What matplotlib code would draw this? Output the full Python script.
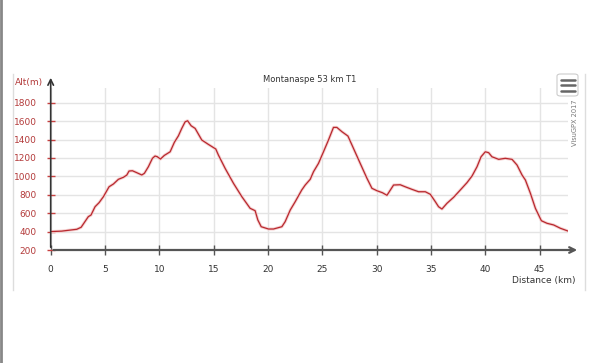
import matplotlib
matplotlib.use("Agg")
import matplotlib.pyplot as plt
from matplotlib.patches import FancyBboxPatch
from matplotlib.lines import Line2D

# ---- data ----
distance_km = [0.0, 1.0, 2.4, 2.8, 3.46, 3.71, 4.08, 4.45, 4.85, 5.37, 5.77, 6.23, 6.69,
               7.0, 7.21, 7.52, 7.92, 8.38, 8.62, 8.99, 9.36, 9.6, 9.8, 10.1, 10.46, 10.99,
               11.38, 11.75, 12.06, 12.37, 12.6, 12.92, 13.29, 13.9, 14.5, 15.19, 15.43,
               16.05, 16.82, 17.59, 18.35, 18.81, 19.06, 19.37, 20.04, 20.5, 21.27, 21.57,
               22.04, 22.5, 23.1, 23.42, 23.88, 24.18, 24.64, 25.1, 25.56, 26.02, 26.33,
               26.8, 27.35, 27.86, 28.48, 29.1, 29.56, 30.02, 30.53, 30.94, 31.55, 32.16,
               32.62, 33.24, 33.85, 34.47, 34.93, 35.39, 35.69, 36.0, 36.46, 37.07, 37.69,
               38.3, 38.77, 39.23, 39.6, 39.99, 40.3, 40.6, 41.22, 41.83, 42.45, 42.91,
               43.37, 43.68, 44.14, 44.6, 45.15, 45.67, 46.28, 46.9, 47.6]
altitude_m = [400, 405, 425, 447, 562, 580, 670, 714, 779, 887, 917, 968, 990,
              1014, 1058, 1061, 1040, 1015, 1033, 1105, 1196, 1221, 1214, 1188, 1228, 1267,
              1370, 1440, 1521, 1593, 1604, 1550, 1521, 1395, 1348, 1297, 1232,
              1087, 924, 779, 653, 627, 526, 453, 428, 428, 453, 507,
              634, 725, 852, 906, 968, 1050, 1141, 1267, 1395, 1532, 1532,
              1485, 1438, 1304, 1141, 979, 870, 844, 822, 794, 906, 909,
              887, 859, 833, 833, 805, 725, 670, 645, 707, 772, 852,
              931, 1004, 1105, 1213, 1267, 1257, 1213, 1185, 1196, 1185, 1123,
              1015, 960, 816, 653, 518, 490, 472, 436, 406]

x_ticks = [0, 5, 10, 15, 20, 25, 30, 35, 40, 45]
y_ticks = [200, 400, 600, 800, 1000, 1200, 1400, 1600, 1800]

title = "Montanaspe 53 km T1"
y_label = "Alt(m)"
x_label = "Distance (km)"
credit = "VisuGPX 2017"

RED = "#b8282e"
TXT_RED = "#b33a3a"
GRID = "#e4e4e4"
AXIS = "#555555"

W, H = 599, 363
fig = plt.figure(figsize=(W / 100, H / 100), dpi=100)
fig.patch.set_facecolor("white")

def fx(px):
    return px / W

def fy(py):
    return 1 - py / H

left_px, right_px, bottom_px, top_px = 50.7, 568.0, 250.0, 88.0
ax = fig.add_axes([fx(left_px), fy(bottom_px), (right_px - left_px) / W, (bottom_px - top_px) / H])
ax.set_xlim(0, 47.6)
ax.set_ylim(200, 1960)

for s in ax.spines.values():
    s.set_visible(False)

ax.set_xticks(x_ticks)
ax.set_yticks(y_ticks)
ax.grid(True, color=GRID, lw=1)
ax.set_axisbelow(True)
ax.tick_params(axis="x", direction="inout", length=7, width=1, color=AXIS,
               labelsize=6.5, labelcolor="#333333", pad=7)
ax.tick_params(axis="y", direction="inout", length=6, width=1, color="#c84040",
               labelsize=6.5, labelcolor=TXT_RED, pad=7)

ax.plot(distance_km, altitude_m, color="#f5d0d0", lw=2.2, solid_capstyle="round", zorder=2)
ax.plot(distance_km, altitude_m, color=RED, lw=0.9, zorder=3)

# axes with arrows
ax.annotate("", xy=(fx(580), fy(250)), xytext=(fx(50.7), fy(250)),
            xycoords="figure fraction", textcoords="figure fraction",
            arrowprops=dict(arrowstyle="->", color=AXIS, lw=1.6, mutation_scale=10))
ax.annotate("", xy=(fx(50.7), fy(75)), xytext=(fx(50.7), fy(250)),
            xycoords="figure fraction", textcoords="figure fraction",
            arrowprops=dict(arrowstyle="->", color="#333333", lw=1.2, mutation_scale=10))

# texts
fig.text(fx(310), fy(80), title, ha="center", va="center", fontsize=6, color="#333333")
fig.text(fx(29), fy(82), y_label, ha="center", va="center", fontsize=6.5, color=TXT_RED)
fig.text(fx(575), fy(281), x_label, ha="right", va="center", fontsize=6.5, color="#333333")
fig.text(fx(575), fy(123), credit, ha="center", va="center", fontsize=4.8,
         color="#777777", rotation=90)

# frame lines
fig.add_artist(Line2D([fx(1), fx(1)], [0, 1], color="#888888", lw=2))
fig.add_artist(Line2D([fx(13), fx(13)], [fy(74), fy(290)], color="#dddddd", lw=1))
fig.add_artist(Line2D([fx(585), fx(585)], [fy(74), fy(290)], color="#dddddd", lw=1))

# hamburger menu icon
box = FancyBboxPatch((fx(557), fy(96)), fx(21), 22 / H, boxstyle="round,pad=0,rounding_size=0.006",
                     transform=fig.transFigure, facecolor="white", edgecolor="#cccccc", lw=0.8)
fig.add_artist(box)
for yy in (79.5, 85, 90.5):
    fig.add_artist(Line2D([fx(560.5), fx(574.5)], [fy(yy), fy(yy)], color="#666666", lw=1.8,
                          solid_capstyle="round"))

fig.savefig("out.png", dpi=100, facecolor="white")
